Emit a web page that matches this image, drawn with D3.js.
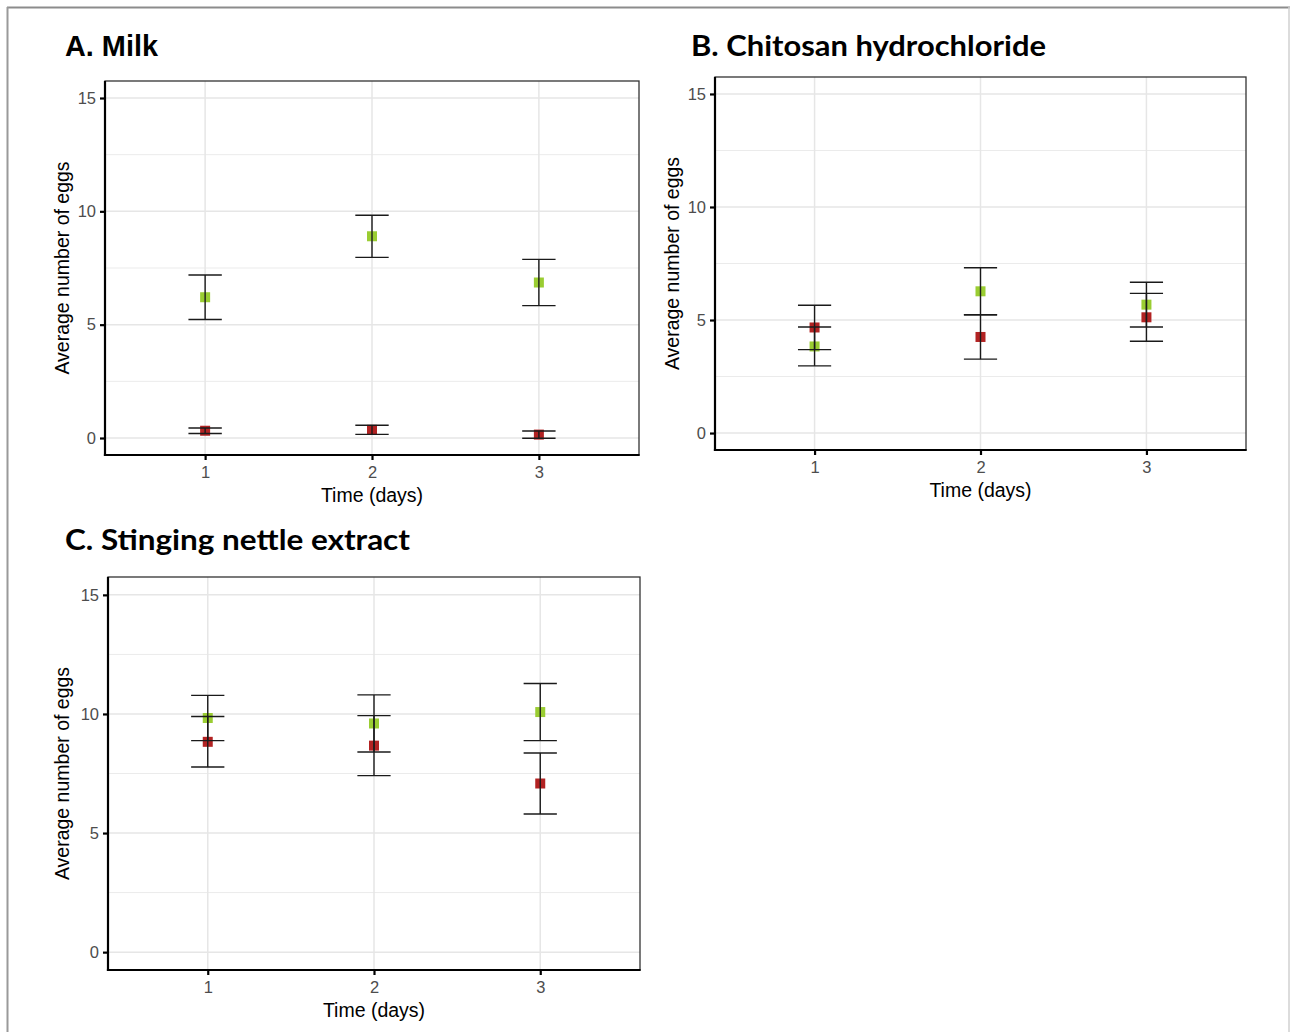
<!DOCTYPE html>
<html>
<head>
<meta charset="utf-8">
<script src="https://cdn.jsdelivr.net/npm/d3@7"></script>
<style>
  html, body { margin: 0; padding: 0; background: #fff; }
  svg { display: block; }
</style>
</head>
<body>
<svg id="chart" width="1290" height="1032"></svg>
<script>
// ---------- data ----------
const days = [1, 2, 3];
const dayLabels = ["1", "2", "3"];
const yTicks = [0, 5, 10, 15];
const yMinorTicks = [2.5, 7.5, 12.5];
const panelTitles = ["A. Milk", "B. Chitosan hydrochloride", "C. Stinging nettle extract"];
const xTitle = "Time (days)";
const yTitle = "Average number of eggs";

const milkGreenMean = [6.21, 8.90, 6.86];
const milkGreenErr  = [0.98, 0.93, 1.02];
const milkRedMean   = [0.32, 0.36, 0.15];
const milkRedErr    = [0.12, 0.20, 0.16];

const chitosanGreenMean = [3.83, 6.27, 5.68];
const chitosanGreenErr  = [0.86, 1.04, 0.99];
const chitosanRedMean   = [4.67, 4.25, 5.12];
const chitosanRedErr    = [0.98, 0.98, 1.06];

const nettleGreenMean = [9.83, 9.60, 10.08];
const nettleGreenErr  = [0.95, 1.20, 1.20];
const nettleRedMean   = [8.83, 8.67, 7.08];
const nettleRedErr    = [1.06, 1.26, 1.28];

const greenColor = "#9acd32";
const redColor = "#b22222";

// ---------- layout ----------
const panels = [
  { title: panelTitles[0], titleFont: "'Liberation Sans', Arial, sans-serif", titleX: 65, titleY: 56, titleLen: 93,
    left: 105, right: 639, top: 81, bottom: 455, yTitleX: 62,
    series: [
      { mean: milkGreenMean, err: milkGreenErr, color: greenColor },
      { mean: milkRedMean, err: milkRedErr, color: redColor } ] },
  { title: panelTitles[1], titleFont: "Lato, 'Open Sans', sans-serif", titleX: 691, titleY: 56, titleLen: 355,
    left: 715, right: 1246, top: 77, bottom: 450, yTitleX: 672,
    series: [
      { mean: chitosanGreenMean, err: chitosanGreenErr, color: greenColor },
      { mean: chitosanRedMean, err: chitosanRedErr, color: redColor } ] },
  { title: panelTitles[2], titleFont: "Lato, 'Open Sans', sans-serif", titleX: 65, titleY: 550, titleLen: 345,
    left: 108, right: 640, top: 577, bottom: 970, yTitleX: 62,
    series: [
      { mean: nettleGreenMean, err: nettleGreenErr, color: greenColor },
      { mean: nettleRedMean, err: nettleRedErr, color: redColor } ] }
];

const svg = d3.select("#chart");

// outer frame
svg.append("line").attr("x1", 7).attr("x2", 1290).attr("y1", 7.5).attr("y2", 7.5)
  .attr("stroke", "#8c8c8c").attr("stroke-width", 2);
svg.append("line").attr("x1", 7.5).attr("x2", 7.5).attr("y1", 7).attr("y2", 1032)
  .attr("stroke", "#9a9a9a").attr("stroke-width", 2);
svg.append("line").attr("x1", 1289).attr("x2", 1289).attr("y1", 7).attr("y2", 1032)
  .attr("stroke", "#d0d0d0").attr("stroke-width", 1.5);

const labelFont = "'Liberation Sans', Arial, sans-serif";

panels.forEach(p => {
  const x = d3.scaleLinear().domain([0.4, 3.6]).range([p.left, p.right]);
  const y = d3.scaleLinear().domain([-0.75, 15.75]).range([p.bottom, p.top]);
  const g = svg.append("g");

  // title
  g.append("text").attr("x", p.titleX).attr("y", p.titleY)
    .attr("font-family", p.titleFont).attr("font-weight", 700).attr("font-size", 29)
    .attr("textLength", p.titleLen).attr("lengthAdjust", "spacingAndGlyphs")
    .attr("fill", "#000").text(p.title);

  // panel background
  g.append("rect").attr("x", p.left).attr("y", p.top)
    .attr("width", p.right - p.left).attr("height", p.bottom - p.top).attr("fill", "#fff");

  // grid
  g.selectAll(".minor").data(yMinorTicks).join("line")
    .attr("x1", p.left).attr("x2", p.right)
    .attr("y1", d => y(d)).attr("y2", d => y(d))
    .attr("stroke", "#ebebeb").attr("stroke-width", 1);
  g.selectAll(".major").data(yTicks).join("line")
    .attr("x1", p.left).attr("x2", p.right)
    .attr("y1", d => y(d)).attr("y2", d => y(d))
    .attr("stroke", "#e6e6e6").attr("stroke-width", 1.5);
  g.selectAll(".vgrid").data(days).join("line")
    .attr("x1", d => x(d)).attr("x2", d => x(d))
    .attr("y1", p.top).attr("y2", p.bottom)
    .attr("stroke", "#e6e6e6").attr("stroke-width", 1.5);

  // points
  p.series.forEach(s => {
    g.selectAll(null).data(days).join("rect")
      .attr("x", (d) => x(d) - 5).attr("y", (d, i) => y(s.mean[i]) - 5)
      .attr("width", 10).attr("height", 10).attr("fill", s.color);
  });

  // error bars
  p.series.forEach(s => {
    const eb = g.selectAll(null).data(days).join("g");
    eb.append("line")
      .attr("x1", d => x(d)).attr("x2", d => x(d))
      .attr("y1", (d, i) => y(s.mean[i] - s.err[i])).attr("y2", (d, i) => y(s.mean[i] + s.err[i]))
      .attr("stroke", "#1a1a1a").attr("stroke-width", 1.4);
    eb.append("line")
      .attr("x1", d => x(d - 0.1)).attr("x2", d => x(d + 0.1))
      .attr("y1", (d, i) => y(s.mean[i] + s.err[i])).attr("y2", (d, i) => y(s.mean[i] + s.err[i]))
      .attr("stroke", "#1a1a1a").attr("stroke-width", 1.4);
    eb.append("line")
      .attr("x1", d => x(d - 0.1)).attr("x2", d => x(d + 0.1))
      .attr("y1", (d, i) => y(s.mean[i] - s.err[i])).attr("y2", (d, i) => y(s.mean[i] - s.err[i]))
      .attr("stroke", "#1a1a1a").attr("stroke-width", 1.4);
  });

  // panel border (top/right)
  g.append("rect").attr("x", p.left).attr("y", p.top)
    .attr("width", p.right - p.left).attr("height", p.bottom - p.top)
    .attr("fill", "none").attr("stroke", "#333").attr("stroke-width", 1.3);

  // axes
  const yAxis = d3.axisLeft(y).tickValues(yTicks).tickSize(5).tickPadding(4).tickFormat(d3.format("d"));
  const ya = g.append("g").attr("transform", `translate(${p.left},0)`).call(yAxis);
  ya.select(".domain").remove();
  ya.selectAll(".tick line").attr("stroke", "#000").attr("stroke-width", 2.2);
  ya.selectAll(".tick text").attr("font-family", labelFont).attr("font-size", 16.5).attr("fill", "#4d4d4d");

  const xAxis = d3.axisBottom(x).tickValues(days).tickSize(5).tickPadding(6)
    .tickFormat((d, i) => dayLabels[i]);
  const xa = g.append("g").attr("transform", `translate(0,${p.bottom})`).call(xAxis);
  xa.select(".domain").remove();
  xa.selectAll(".tick line").attr("stroke", "#000").attr("stroke-width", 2.2);
  xa.selectAll(".tick text").attr("font-family", labelFont).attr("font-size", 16.5).attr("fill", "#4d4d4d");

  // axis lines (thick black left & bottom)
  g.append("line").attr("x1", p.left).attr("x2", p.left).attr("y1", p.top).attr("y2", p.bottom + 1.1)
    .attr("stroke", "#000").attr("stroke-width", 2.2);
  g.append("line").attr("x1", p.left - 1.1).attr("x2", p.right + 0.6).attr("y1", p.bottom).attr("y2", p.bottom)
    .attr("stroke", "#000").attr("stroke-width", 2.2);

  // axis titles
  g.append("text").attr("x", (p.left + p.right) / 2).attr("y", p.bottom + 47)
    .attr("text-anchor", "middle").attr("font-family", labelFont).attr("font-size", 19.5)
    .attr("fill", "#000").text(xTitle);
  g.append("text")
    .attr("transform", `translate(${p.yTitleX + 7},${(p.top + p.bottom) / 2}) rotate(-90)`)
    .attr("text-anchor", "middle").attr("font-family", labelFont).attr("font-size", 19.5)
    .attr("fill", "#000").text(yTitle);
});
</script>
</body>
</html>
